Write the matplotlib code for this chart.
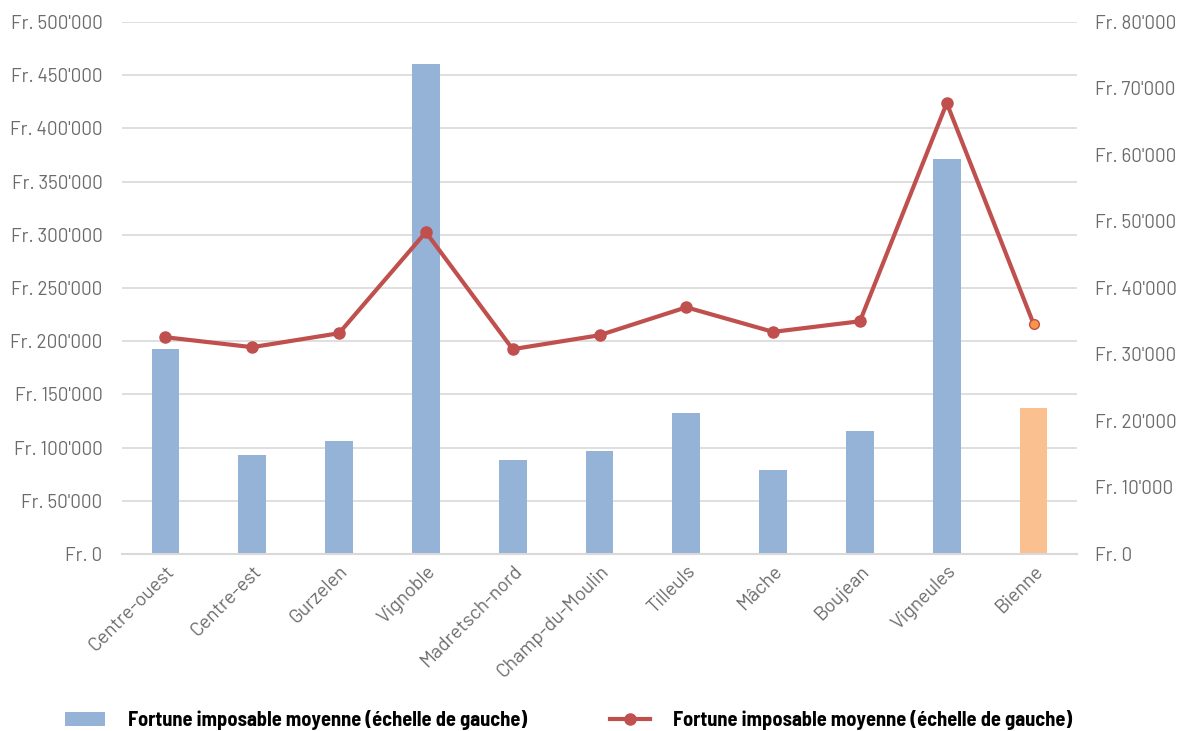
import matplotlib
matplotlib.use("Agg")
import matplotlib.pyplot as plt
from matplotlib.ticker import FuncFormatter, MultipleLocator
from matplotlib.lines import Line2D
from matplotlib.patches import Patch

quartiers = ["Centre-ouest", "Centre-est", "Gurzelen", "Vignoble", "Madretsch-nord",
             "Champ-du-Moulin", "Tilleuls", "Mâche", "Boujean", "Vigneules", "Bienne"]
fortune_moyenne = [193000, 93000, 106000, 460500, 88500, 97000, 132500, 79000, 115500, 371000, 137500]
revenu_moyen = [32600, 31100, 33200, 48400, 30800, 32900, 37100, 33400, 35000, 67800, 34600]
legend_labels = ["Fortune imposable moyenne (échelle de gauche)",
                 "Fortune imposable moyenne (échelle de gauche)"]

plt.rcParams["font.family"] = ["Barlow", "DejaVu Sans"]

BLUE = "#95b3d7"
ORANGE_BAR = "#fac090"
RED = "#c0504d"
ORANGE_PT = "#f79646"
GRID = "#d9d9d9"
TICK = "#6b6b6b"

W, H = 1179, 731
fig = plt.figure(figsize=(W / 100, H / 100), dpi=100)
ax = fig.add_axes([122 / W, 1 - 554 / H, (1077 - 122) / W, (554 - 22) / H])
ax2 = ax.twinx()

x = list(range(len(quartiers)))
colors = [BLUE] * (len(quartiers) - 1) + [ORANGE_BAR]
ax.bar(x, fortune_moyenne, width=0.32, color=colors, zorder=2)

ax2.plot(x[:-1], revenu_moyen[:-1], color=RED, lw=3, marker="o", ms=8,
         solid_capstyle="round", zorder=3)
ax2.plot(x[-2:], revenu_moyen[-2:], color=RED, lw=3, zorder=3)
ax2.plot(x[-1], revenu_moyen[-1], marker="o", ms=7, mfc=ORANGE_PT, mec=RED, mew=1, zorder=4)

ax.set_xlim(-0.5, len(quartiers) - 0.5)
ax.set_ylim(0, 500000)
ax2.set_ylim(0, 80000)
ax.yaxis.set_major_locator(MultipleLocator(50000))
ax2.yaxis.set_major_locator(MultipleLocator(10000))

def chf(v, _):
    v = int(round(v))
    if v == 0:
        return "Fr. 0"
    return "Fr. " + f"{v:,}".replace(",", "'")

ax.yaxis.set_major_formatter(FuncFormatter(chf))
ax2.yaxis.set_major_formatter(FuncFormatter(chf))

ax.grid(axis="y", color=GRID, lw=1.2, zorder=0)
ax.set_axisbelow(True)
for a in (ax, ax2):
    for s in a.spines.values():
        s.set_visible(False)
ax.spines["bottom"].set_visible(True)
ax.spines["bottom"].set_color(GRID)
ax.spines["bottom"].set_linewidth(1.5)

ax.tick_params(axis="y", length=0, pad=14, labelsize=13.5, labelcolor=TICK)
ax2.tick_params(axis="y", length=0, pad=13, labelsize=13.5, labelcolor=TICK)
ax.set_xticks(x)
ax.set_xticklabels(quartiers, rotation=45, ha="right", rotation_mode="anchor",
                   fontsize=14, color=TICK)
ax.tick_params(axis="x", length=0, pad=6)

legend_font = {"family": ["Barlow Semi Condensed", "DejaVu Sans"], "weight": "bold", "size": 14.7}
handles = [Patch(facecolor=BLUE, edgecolor="none"),
           Line2D([0], [0], color=RED, lw=3, marker="o", ms=8)]
for handle, label, x0 in zip(handles, legend_labels, (65, 610)):
    fig.legend([handle], [label], loc="center left", bbox_to_anchor=(x0 / W, 1 - 720 / H),
               frameon=False, prop=legend_font, borderpad=0, borderaxespad=0,
               handlelength=1.95, handleheight=0.7, handletextpad=1.15)

fig.savefig("out.png", dpi=100)
